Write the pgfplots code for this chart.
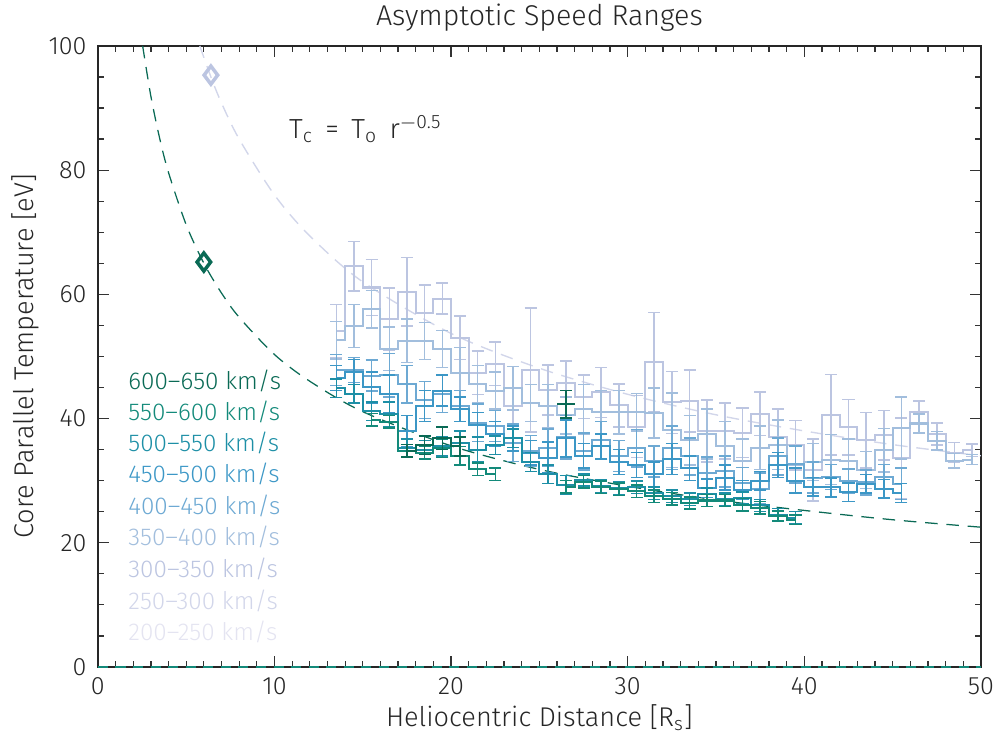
\documentclass[border=0pt]{standalone}
\usepackage{fontspec}
\setmainfont{Fira Sans}[UprightFont={* Light}]
\usepackage{pgfplots}
\usepackage{pgfplotstable}
\pgfplotsset{compat=1.18}

\definecolor{c600}{HTML}{0A6A55}
\definecolor{c550}{HTML}{138A7A}
\definecolor{c500}{HTML}{1D8FA6}
\definecolor{c450}{HTML}{3C97C6}
\definecolor{c400}{HTML}{6DA9D3}
\definecolor{c350}{HTML}{A2BEDD}
\definecolor{c300}{HTML}{BCC5E1}
\definecolor{c250}{HTML}{D2D6EA}
\definecolor{c200}{HTML}{E4E4F1}

% binned core temperatures, one table per speed range
\pgfplotstableread{
x y e
13.5 54.1 4.3
14.5 64.5 4.0
15.5 61.1 4.5
16.5 56.0 5.0
17.5 60.4 5.5
18.5 57.0 4.5
19.5 59.3 2.5
20.5 53.0 3.5
21.5 47.4 3.5
22.5 48.8 3.5
23.5 42.0 3.0
24.5 47.8 10.0
25.5 44.6 4.0
26.5 45.8 3.5
27.5 43.5 3.5
28.5 44.2 4.0
29.5 42.1 3.5
30.5 38.7 5.0
31.5 49.1 8.0
32.5 42.6 5.0
33.5 42.8 5.0
34.5 38.0 5.0
35.5 38.0 4.5
36.5 37.7 4.0
37.5 40.8 3.5
38.5 37.0 4.5
39.5 35.7 4.0
40.5 31.7 5.0
41.5 40.6 6.5
42.5 38.6 4.5
43.5 36.5 4.5
44.5 37.3 4.0
45.5 33.6 6.5
46.5 41.0 1.8
47.5 37.5 1.8
48.5 34.5 1.6
49.5 34.9 1.0
}\tA
\pgfplotstableread{
x y e
13.5 52.6 3.0
14.5 54.9 3.5
15.5 57.6 3.0
16.5 51.2 3.5
17.5 52.5 3.5
18.5 52.5 3.0
19.5 51.2 3.0
20.5 47.4 4.0
21.5 45.5 3.0
22.5 44.5 3.0
23.5 44.9 3.5
24.5 42.5 3.0
25.5 42.0 3.5
26.5 40.5 3.0
27.5 41.5 4.0
28.5 41.0 3.5
29.5 41.0 3.5
30.5 41.0 3.0
31.5 40.9 4.0
32.5 38.1 6.0
33.5 36.5 4.0
34.5 37.5 4.0
35.5 35.5 4.0
36.5 33.2 3.5
37.5 35.3 3.5
38.5 35.8 4.0
39.5 32.5 3.0
40.5 33.0 3.0
41.5 33.4 4.0
42.5 33.2 3.5
43.5 31.7 3.0
44.5 34.9 3.5
45.5 38.5 5.0
46.5 39.2 1.5
47.5 36.4 1.5
48.5 33.2 1.2
49.5 33.4 0.8
}\tB
\pgfplotstableread{
x y e
13.5 47.8 2.5
14.5 47.8 2.0
15.5 46.9 2.5
16.5 47.0 3.5
17.5 45.5 3.0
18.5 43.0 3.0
19.5 44.0 3.0
20.5 42.0 2.5
21.5 39.3 3.0
22.5 38.8 2.5
23.5 36.1 3.0
24.5 34.8 2.5
25.5 35.3 3.0
26.5 37.0 3.5
27.5 34.7 3.0
28.5 36.5 3.0
29.5 34.0 2.5
30.5 35.2 3.0
31.5 33.1 2.5
32.5 35.3 3.5
33.5 33.9 3.0
34.5 31.3 2.5
35.5 31.5 2.5
36.5 29.6 2.5
37.5 28.7 2.5
38.5 33.9 3.0
39.5 32.6 3.0
40.5 30.5 2.5
41.5 30.6 2.0
42.5 29.9 2.0
43.5 29.7 2.0
44.5 30.6 2.0
45.5 29.5 2.5
}\tC
\pgfplotstableread{
x y e
13.5 46.5 2.0
14.5 47.5 2.0
15.5 45.0 2.5
16.5 44.0 3.0
17.5 38.0 2.5
18.5 42.0 2.5
19.5 44.5 2.5
20.5 41.5 2.0
21.5 39.0 2.0
22.5 37.5 2.0
23.5 36.8 2.0
24.5 34.5 2.0
25.5 33.7 2.5
26.5 36.8 3.0
27.5 34.0 2.0
28.5 35.5 2.0
29.5 33.0 2.0
30.5 32.5 2.0
31.5 31.0 2.0
32.5 33.5 2.5
33.5 32.0 2.0
34.5 28.8 1.5
35.5 30.5 2.0
36.5 28.5 1.5
37.5 30.0 1.5
38.5 32.5 2.0
39.5 30.0 2.0
40.5 29.0 1.5
41.5 28.9 1.5
42.5 28.1 1.5
43.5 29.5 1.5
44.5 28.7 1.5
45.5 28.0 1.5
}\tD
\pgfplotstableread{
x y e
13.5 44.9 1.5
14.5 44.0 1.5
15.5 41.2 1.5
16.5 40.7 2.0
17.5 35.2 1.5
18.5 35.0 1.5
19.5 35.5 1.5
20.5 36.0 2.0
21.5 35.0 2.0
22.5 35.7 1.5
23.5 36.8 1.5
24.5 33.0 1.5
25.5 31.0 1.5
26.5 29.3 1.5
27.5 30.1 1.0
28.5 29.1 1.0
29.5 28.8 1.0
30.5 28.9 1.0
31.5 28.0 1.0
32.5 27.5 1.0
33.5 27.0 1.0
34.5 27.8 1.0
35.5 27.0 1.0
36.5 27.2 1.0
37.5 26.0 1.0
38.5 24.5 1.0
39.5 24.0 1.0
}\tE
\pgfplotstableread{
x y e
15.5 39.8 1.0
16.5 39.5 1.0
17.5 34.8 1.0
18.5 34.5 1.0
19.5 35.2 1.5
20.5 34.0 1.5
21.5 31.8 1.0
22.5 31.0 1.0
}\tFa
\pgfplotstableread{
x y e
26.5 29.0 1.0
27.5 29.8 1.0
28.5 28.9 1.0
29.5 28.6 1.0
30.5 28.3 1.0
31.5 27.5 1.0
32.5 27.1 1.0
33.5 26.4 1.0
34.5 26.8 1.0
35.5 26.8 1.0
36.5 26.1 1.0
37.5 25.6 1.0
38.5 24.3 0.8
39.5 23.7 0.8
}\tFb
\pgfplotstableread{
x y e
17.5 34.8 1.0
18.5 35.7 1.5
19.5 36.8 1.8
20.5 35.5 1.5
}\tGa
\pgfplotstableread{
x y e
26.5 42.3 2.2
}\tGb

\begin{document}
\begin{tikzpicture}
\useasboundingbox (-39pt,-26.7pt) rectangle (358.2pt,265.7pt);
\begin{axis}[
  scale only axis,
  width=351.8pt, height=247.4pt,
  xmin=0, xmax=50, ymin=0, ymax=100,
  xtick={0,10,...,50}, ytick={0,20,...,100},
  minor x tick num=9, minor y tick num=3,
  major tick length=4.5pt, minor tick length=2.3pt,
  tick style={black!80, line width=0.5pt},
  axis line style={black!85, line width=0.6pt},
  /pgf/number format/assume math mode=true,
  ticklabel style={font=\fontsize{10}{12}\selectfont, black!85},
  xticklabel style={anchor=center, yshift=-7.8pt},
  yticklabel style={anchor=east, xshift=-1pt},
  xlabel={Heliocentric Distance [R\textsubscript{s}]},
  ylabel={Core Parallel Temperature [eV]},
  label style={font=\fontsize{10.8}{12}\selectfont, black!85},
  xlabel style={at={(axis description cs:0.5,-0.082)}, anchor=center},
  ylabel style={at={(axis description cs:-0.0824,0.5)}, anchor=center},
  clip=false,
  error bars/error bar style={line width=0.6pt},
  error bars/error mark options={rotate=90, mark size=2.4pt, line width=0.6pt},
]
% fitted T_c = T_0 r^-0.5 curves
\addplot[c250, line width=0.55pt, dash pattern=on 5pt off 3.5pt, smooth] coordinates {
(5.77,100.0) (6.4,95.0) (7,90.8) (8,85.0) (10,76.0) (12,69.4) (15,62.0) (20,53.7)
(25,48.1) (30,43.9) (35,40.6) (40,38.0) (45,35.8) (50,34.0)};
\addplot[c600, line width=0.5pt, dash pattern=on 5pt off 3.5pt, smooth] coordinates {
(2.535,100.0) (3,91.9) (3.5,85.1) (4,79.6) (5,71.2) (6,65.0) (7,60.2) (8,56.3)
(10,50.3) (12,46.0) (15,41.1) (20,35.6) (25,31.8) (30,29.1) (35,26.9) (40,25.2)
(45,23.7) (50,22.5)};
\addplot[c550, line width=0.8pt, dash pattern=on 4pt off 3pt] coordinates {(0,0) (50,0)};

\addplot[c300, line width=0.8pt, const plot mark mid, error bars/.cd, y dir=both, y explicit]
  table[x=x, y=y, y error=e] {\tA};
\addplot[c350, line width=0.8pt, const plot mark mid, error bars/.cd, y dir=both, y explicit]
  table[x=x, y=y, y error=e] {\tB};
\addplot[c400, line width=0.8pt, const plot mark mid, error bars/.cd, y dir=both, y explicit]
  table[x=x, y=y, y error=e] {\tC};
\addplot[c450, line width=0.8pt, const plot mark mid, error bars/.cd, y dir=both, y explicit]
  table[x=x, y=y, y error=e] {\tD};
\addplot[c500, line width=0.8pt, const plot mark mid, error bars/.cd, y dir=both, y explicit]
  table[x=x, y=y, y error=e] {\tE};
\addplot[c550, line width=0.8pt, const plot mark mid, error bars/.cd, y dir=both, y explicit]
  table[x=x, y=y, y error=e] {\tFa};
\addplot[c550, line width=0.8pt, const plot mark mid, error bars/.cd, y dir=both, y explicit]
  table[x=x, y=y, y error=e] {\tFb};
\addplot[c600, line width=0.8pt, const plot mark mid, error bars/.cd, y dir=both, y explicit]
  table[x=x, y=y, y error=e] {\tGa};
\addplot[c600, only marks, mark=-, mark size=3.5pt, mark options={line width=0.9pt},
  error bars/.cd, y dir=both, y explicit]
  table[x=x, y=y, y error=e] {\tGb};

% reference points
\addplot[c600, only marks, mark=diamond, mark size=3.6pt, mark options={line width=1.4pt}]
  coordinates {(6.0,65.2)};
\addplot[c300, only marks, mark=diamond, mark size=3.6pt, mark options={line width=1.4pt}]
  coordinates {(6.4,95.3)};

\node[font=\fontsize{11.4}{13}\selectfont, black!85] at (axis description cs:0.5,1.046)
  {Asymptotic Speed Ranges};

\node[anchor=west, inner sep=0pt, font=\fontsize{11}{13}\selectfont, black!85] at (axis cs:10.8,86.6)
  {T\textsubscript{c} \,=\, T\textsubscript{o} \,r\textsuperscript{$-$0.5}};

\begin{scope}[font=\fontsize{9.7}{11}\selectfont, inner sep=0pt]
\node[anchor=west, text=c600] at (axis cs:1.7,46.1) {600--650 km/s};
\node[anchor=west, text=c550] at (axis cs:1.7,41.1) {550--600 km/s};
\node[anchor=west, text=c500] at (axis cs:1.7,36.1) {500--550 km/s};
\node[anchor=west, text=c450] at (axis cs:1.7,31.1) {450--500 km/s};
\node[anchor=west, text=c400] at (axis cs:1.7,26.0) {400--450 km/s};
\node[anchor=west, text=c350] at (axis cs:1.7,20.9) {350--400 km/s};
\node[anchor=west, text=c300] at (axis cs:1.7,15.8) {300--350 km/s};
\node[anchor=west, text=c250] at (axis cs:1.7,10.7) {250--300 km/s};
\node[anchor=west, text=c200] at (axis cs:1.7,5.7) {200--250 km/s};
\end{scope}
\end{axis}
\end{tikzpicture}
\end{document}
